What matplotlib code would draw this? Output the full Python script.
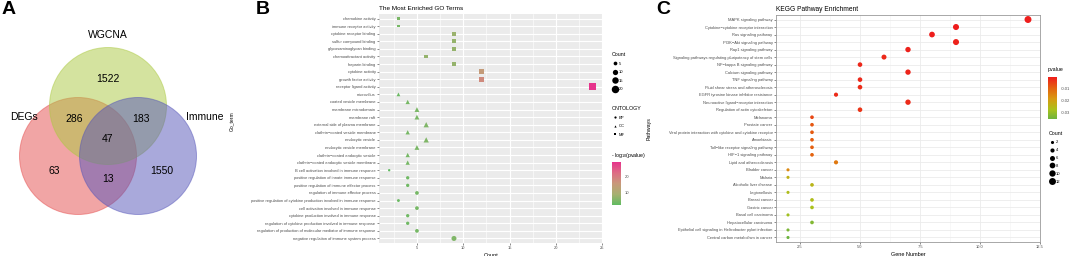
import numpy as np
import matplotlib.pyplot as plt
from matplotlib.patches import Circle
from matplotlib.colors import LinearSegmentedColormap, Normalize
from matplotlib.lines import Line2D

plt.rcParams['font.family'] = ['Liberation Sans', 'DejaVu Sans']
plt.rcParams['mathtext.fontset'] = 'custom'
plt.rcParams['mathtext.rm'] = 'Liberation Sans'

# ---- panel A: venn region counts
venn_sets = ['DEGs', 'WGCNA', 'Immune']
venn_regions = ['WGCNA only', 'DEGs&WGCNA', 'WGCNA&Immune', 'all three', 'DEGs only', 'DEGs&Immune', 'Immune only']
venn_values = [1522, 286, 183, 47, 63, 13, 1550]

# ---- panel B: GO terms (top to bottom)
go_terms = [
    'chemokine activity', 'immune receptor activity', 'cytokine receptor binding',
    'sulfur compound binding', 'glycosaminoglycan binding', 'chemoattractant activity',
    'heparin binding', 'cytokine activity', 'growth factor activity', 'receptor ligand activity',
    'microvillus', 'coated vesicle membrane', 'membrane microdomain', 'membrane raft',
    'external side of plasma membrane', 'clathrin\u2212coated vesicle membrane', 'endocytic vesicle',
    'endocytic vesicle membrane', 'clathrin\u2212coated endocytic vesicle',
    'clathrin\u2212coated endocytic vesicle membrane',
    'B cell activation involved in immune response', 'positive regulation of innate immune response',
    'positive regulation of immune effector process', 'regulation of immune effector process',
    'positive regulation of cytokine production involved in immune response',
    'cell activation involved in immune response', 'cytokine production involved in immune response',
    'regulation of cytokine production involved in immune response',
    'regulation of production of molecular mediator of immune response',
    'negative regulation of immune system process']
go_count = [3, 3, 9, 9, 9, 6, 9, 12, 12, 24,
            3, 4, 5, 5, 6, 4, 6, 5, 4, 4,
            2, 4, 4, 5, 3, 5, 4, 4, 5, 9]
go_ont = ['MF'] * 10 + ['CC'] * 10 + ['BP'] * 10
go_logp = [4.5, 4.0, 7.5, 7.0, 7.0, 7.0, 7.0, 14.5, 17.5, 28.7,
           3.0, 4.0, 4.5, 4.5, 5.0, 4.0, 5.0, 4.5, 4.0, 4.0,
           2.0, 3.5, 3.5, 4.0, 3.0, 4.0, 3.5, 3.5, 4.0, 5.0]

# ---- panel C: KEGG pathways (top to bottom)
kegg_paths = [
    'MAPK signaling pathway', 'Cytokine\u2212cytokine receptor interaction', 'Ras signaling pathway',
    'PI3K\u2212Akt signaling pathway', 'Rap1 signaling pathway',
    'Signaling pathways regulating pluripotency of stem cells', 'NF\u2212kappa B signaling pathway',
    'Calcium signaling pathway', 'TNF signaling pathway', 'Fluid shear stress and atherosclerosis',
    'EGFR tyrosine kinase inhibitor resistance', 'Neuroactive ligand\u2212receptor interaction',
    'Regulation of actin cytoskeleton', 'Melanoma', 'Prostate cancer',
    'Viral protein interaction with cytokine and cytokine receptor', 'Amoebiasis',
    'Toll\u2212like receptor signaling pathway', 'HIF\u22121 signaling pathway', 'Lipid and atherosclerosis',
    'Bladder cancer', 'Malaria', 'Alcoholic liver disease', 'Legionellosis', 'Breast cancer',
    'Gastric cancer', 'Basal cell carcinoma', 'Hepatocellular carcinoma',
    'Epithelial cell signaling in Helicobacter pylori infection', 'Central carbon metabolism in cancer']
kegg_count = [12, 9, 8, 9, 7, 6, 5, 7, 5, 5, 4, 7, 5,
              3, 3, 3, 3, 3, 3, 4, 2, 2, 3, 2, 3, 3, 2, 3, 2, 2]
kegg_pvalue = [-0.0012, -0.0008, -0.0010, -0.0015, -0.0016, -0.0025, -0.0022, -0.0020, -0.0024,
               -0.0030, -0.0028, -0.0026, -0.0040, -0.0065, -0.0085, -0.0090, -0.0092, -0.0095,
               -0.0100, -0.0135, -0.0160, -0.0240, -0.0250, -0.0270, -0.0270, -0.0280, -0.0290,
               -0.0330, -0.0340, -0.0358]

W, H = 1072, 256


def rect(left, top, right, bottom):
    return [left / W, 1 - bottom / H, (right - left) / W, (bottom - top) / H]


fig = plt.figure(figsize=(10.72, 2.56), dpi=100)

# ================= A: venn
ax_a = fig.add_axes(rect(0, 0, 240, 256))
ax_a.set_xlim(0, 240)
ax_a.set_ylim(256, 0)
ax_a.axis('off')
circ_pos = {'DEGs': (78, 156), 'WGCNA': (108, 106), 'Immune': (138, 156)}
circ_col = {'DEGs': '#e54d4d', 'WGCNA': '#abc941', 'Immune': '#5555b9'}
for name in venn_sets:
    ax_a.add_patch(Circle(circ_pos[name], 58.5, fc=circ_col[name], ec=circ_col[name], alpha=0.5, lw=0.7))
name_pos = {'DEGs': (24, 117), 'WGCNA': (108, 35), 'Immune': (205, 117)}
for name in venn_sets:
    ax_a.text(*name_pos[name], name, ha='center', va='center', fontsize=7.5)
region_pos = [(108, 79), (74, 119), (141, 119), (108, 139), (54, 171), (108, 179), (162, 171)]
for (x, y), v in zip(region_pos, venn_values):
    ax_a.text(x, y, str(v), ha='center', va='center', fontsize=7.5)

# ================= B: GO dot plot
cmap_go = LinearSegmentedColormap.from_list('go', ['#61bb61', '#a7b070', '#c8987a', '#dd6c84', '#e6338b'])
norm_go = Normalize(min(go_logp), max(go_logp))
ax_b = fig.add_axes(rect(379, 14, 603, 243))
ax_b.set_facecolor('#ebebeb')
n_go = len(go_terms)
ypos = np.arange(n_go)[::-1]
go_count = np.array(go_count)
go_logp = np.array(go_logp)
shapes = {'BP': 'o', 'CC': '^', 'MF': 's'}
size_k = {'BP': 1.45, 'CC': 2.4, 'MF': 1.05}   # ggplot shapes differ in apparent size
for ont, mk in shapes.items():
    m = np.array([o == ont for o in go_ont])
    sc_b = ax_b.scatter(go_count[m], ypos[m], s=size_k[ont] * go_count[m], c=go_logp[m], cmap=cmap_go,
                        norm=norm_go, marker=mk, linewidths=0, zorder=3)
ax_b.set_xlim(0.9, 25.1)
ax_b.set_ylim(-0.6, n_go - 0.4)
ax_b.set_xticks([5, 10, 15, 20, 25])
ax_b.set_xticks([2.5, 7.5, 12.5, 17.5, 22.5], minor=True)
ax_b.set_yticks(ypos)
ax_b.set_yticklabels(go_terms)
ax_b.grid(True, which='major', color='white', lw=0.8)
ax_b.grid(True, which='minor', axis='x', color='white', lw=0.4)
for s in ax_b.spines.values():
    s.set_visible(False)
ax_b.tick_params(which='major', labelsize=2.9, length=1.5, width=0.4, colors='#333333', pad=1,
                 labelcolor='#4d4d4d')
ax_b.tick_params(which='minor', length=0)
ax_b.set_axisbelow(True)
ax_b.set_xlabel('Count', fontsize=4, labelpad=1.5)
ax_b.set_ylabel('Go_term', fontsize=3.6)
ax_b.yaxis.set_label_coords(-0.645, 0.53)
ax_b.set_title('The Most Enriched GO Terms', fontsize=4.6, loc='left', pad=3)

# legends B
size_h = [Line2D([], [], marker='o', ls='', color='black', markersize=np.sqrt(1.45 * c), mew=0)
          for c in [5, 10, 15, 20]]
fig.legend(size_h, ['5', '10', '15', '20'], title='Count', loc='upper left',
           bbox_to_anchor=(610 / W, 1 - 50 / H), frameon=False, fontsize=3, title_fontsize=3.8,
           labelspacing=1.1, handletextpad=0.4, borderpad=0, alignment='left', handlelength=1.2)
ont_h = [Line2D([], [], marker=mk, ls='', color='black', markersize=1.6, mew=0) for mk in shapes.values()]
fig.legend(ont_h, list(shapes.keys()), title='ONTOLOGY', loc='upper left',
           bbox_to_anchor=(610 / W, 1 - 104 / H), frameon=False, fontsize=3, title_fontsize=3.8,
           labelspacing=1.1, handletextpad=0.4, borderpad=0, alignment='left', handlelength=1.2)
cax_b = fig.add_axes(rect(612, 162, 621, 205))
cb_b = fig.colorbar(sc_b, cax=cax_b)
cb_b.set_ticks([10, 20])
cb_b.outline.set_visible(False)
cax_b.tick_params(labelsize=3, length=1.5, width=0.4, colors='white', labelcolor='#4d4d4d', pad=1)
fig.text(611 / W, 1 - 155 / H, '- log$_{10}$(pvalue)', fontsize=3.8, ha='left', va='center')

# ================= C: KEGG dot plot
cmap_kg = LinearSegmentedColormap.from_list('kg', [(0, '#6db33f'), (0.22, '#a9c21c'), (0.48, '#d89a12'),
                                                   (0.74, '#e4620f'), (1, '#ee1c1c')])
ax_c = fig.add_axes(rect(776, 15, 1040, 242))
n_kg = len(kegg_paths)
ypos_c = np.arange(n_kg)[::-1]
kegg_count = np.array(kegg_count)
sc_c = ax_c.scatter(kegg_count, ypos_c, s=2.0 * kegg_count + 1, c=kegg_pvalue, cmap=cmap_kg,
                    linewidths=0, zorder=3)
ax_c.set_xlim(1.5, 12.5)
ax_c.set_ylim(-0.6, n_kg - 0.4)
ax_c.set_xticks([2.5, 5.0, 7.5, 10.0, 12.5])
ax_c.set_xticks([3.75, 6.25, 8.75, 11.25], minor=True)
ax_c.set_xticklabels(['2.5', '5.0', '7.5', '10.0', '12.5'])
ax_c.set_yticks(ypos_c)
ax_c.set_yticklabels(kegg_paths)
ax_c.grid(True, which='major', color='#ebebeb', lw=0.6)
ax_c.grid(True, which='minor', axis='x', color='#f4f4f4', lw=0.4)
for s in ax_c.spines.values():
    s.set_color('#9a9a9a')
    s.set_linewidth(0.6)
ax_c.tick_params(which='major', labelsize=2.9, length=1.5, width=0.4, colors='#333333', pad=1,
                 labelcolor='#4d4d4d')
ax_c.tick_params(which='minor', length=0)
ax_c.set_axisbelow(True)
ax_c.set_xlabel('Gene Number', fontsize=4, labelpad=1.5)
ax_c.set_ylabel('Pathways', fontsize=3.8)
ax_c.yaxis.set_label_coords(-0.47, 0.5)
ax_c.set_title('KEGG Pathway Enrichment', fontsize=4.8, loc='left', pad=3)

cax_c = fig.add_axes(rect(1048, 77, 1057, 119))
cb_c = fig.colorbar(sc_c, cax=cax_c)
cb_c.set_ticks([-0.01, -0.02, -0.03])
cb_c.set_ticklabels(['-0.01', '-0.02', '-0.03'])
cb_c.outline.set_visible(False)
cax_c.tick_params(labelsize=3, length=1.5, width=0.4, colors='white', labelcolor='#4d4d4d', pad=1)
fig.text(1048 / W, 1 - 70 / H, 'pvalue', fontsize=3.8, ha='left', va='center')
kc_h = [Line2D([], [], marker='o', ls='', color='black', markersize=np.sqrt(2.0 * c + 1), mew=0)
        for c in [2, 4, 6, 8, 10, 12]]
fig.legend(kc_h, ['2', '4', '6', '8', '10', '12'], title='Count', loc='upper left',
           bbox_to_anchor=(1047 / W, 1 - 129 / H), frameon=False, fontsize=3, title_fontsize=3.8,
           labelspacing=0.95, handletextpad=0.4, borderpad=0, alignment='left', handlelength=1.2)

# panel letters
for lab, x in [('A', 2), ('B', 256), ('C', 656)]:
    fig.text(x / W, 1 - 1 / H, lab, fontsize=14, fontweight='bold', ha='left', va='top')

fig.savefig('out.png', dpi=100)
